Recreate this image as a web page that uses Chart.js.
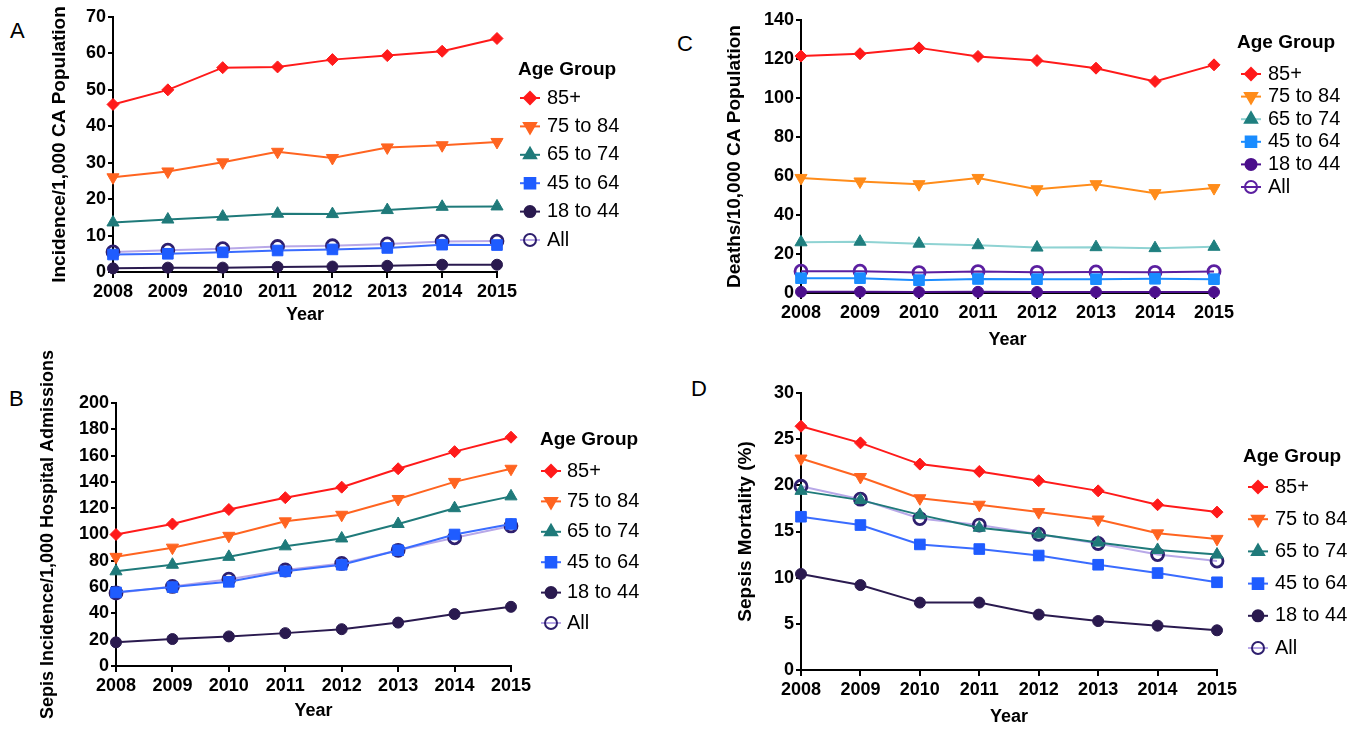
<!DOCTYPE html>
<html>
<head>
<meta charset="utf-8">
<script src="https://cdn.jsdelivr.net/npm/chart.js@4"></script>
<style>
  body { margin: 0; background: #fff; width: 1369px; height: 731px; position: relative; overflow: hidden; font-family: "Liberation Sans", Arial, sans-serif; }
  canvas { position: absolute; }
  .tag { position: absolute; font-size: 22px; color: #000; }
</style>
</head>
<body>
<div class="tag" style="left:10px;top:18px">A</div>
<div class="tag" style="left:9px;top:386px">B</div>
<div class="tag" style="left:677px;top:31px">C</div>
<div class="tag" style="left:691px;top:376px">D</div>
<canvas id="chartA"></canvas>
<canvas id="chartB"></canvas>
<canvas id="chartC"></canvas>
<canvas id="chartD"></canvas>
<script>
const years = ['2008', '2009', '2010', '2011', '2012', '2013', '2014', '2015'];
const groups = ['85+', '75 to 84', '65 to 74', '45 to 64', '18 to 44', 'All'];

// A - incidence per 1,000 CA population
const incPop85 = [46.0, 50.0, 56.1, 56.3, 58.3, 59.4, 60.6, 64.1];
const incPop75 = [26.0, 27.6, 30.1, 33.0, 31.3, 34.2, 34.8, 35.7];
const incPop65 = [13.6, 14.4, 15.2, 16.0, 15.9, 17.0, 17.9, 18.0];
const incPop45 = [4.8, 5.0, 5.4, 5.9, 6.2, 6.6, 7.5, 7.4];
const incPop18 = [1.0, 1.2, 1.2, 1.4, 1.5, 1.7, 2.0, 2.0];
const incPopAll = [5.5, 6.0, 6.4, 7.0, 7.2, 7.7, 8.4, 8.5];

// B - incidence per 1,000 hospital admissions
const incAdm85 = [100, 108, 119, 128, 136, 150, 163, 174];
const incAdm75 = [83, 90, 99, 110, 115, 127, 140, 150];
const incAdm65 = [72, 77, 83, 91, 97, 108, 120, 129];
const incAdm45 = [56, 60, 64, 72, 77, 88, 100, 108];
const incAdm18 = [18, 20.5, 22.5, 25, 28, 33, 39.5, 45];
const incAdmAll = [55.5, 60.5, 66, 73, 78, 88, 97.5, 106.5];

// C - deaths per 10,000 CA population
const deaths85 = [121.5, 122.7, 125.7, 121.3, 119.2, 115.3, 108.5, 117.0];
const deaths75 = [59.0, 57.2, 55.8, 59.0, 53.2, 55.8, 51.2, 53.8];
const deaths65 = [26.0, 26.3, 25.3, 24.5, 23.3, 23.5, 23.0, 23.7];
const deaths45 = [7.6, 7.6, 6.6, 7.2, 7.1, 7.1, 7.3, 7.1];
const deaths18 = [0.6, 0.6, 0.5, 0.6, 0.5, 0.5, 0.5, 0.5];
const deathsAll = [11.2, 11.2, 10.5, 11.0, 10.6, 10.8, 10.6, 11.0];

// D - sepsis mortality (%)
const mort85 = [26.4, 24.6, 22.3, 21.5, 20.5, 19.4, 17.9, 17.1];
const mort75 = [22.9, 20.9, 18.6, 17.9, 17.1, 16.3, 14.8, 14.2];
const mort65 = [19.4, 18.4, 16.8, 15.4, 14.7, 13.8, 13.0, 12.5];
const mort45 = [16.6, 15.7, 13.6, 13.1, 12.4, 11.4, 10.5, 9.5];
const mort18 = [10.4, 9.2, 7.3, 7.3, 6.0, 5.3, 4.8, 4.3];
const mortAll = [19.9, 18.5, 16.4, 15.7, 14.7, 13.7, 12.5, 11.8];

// marker looks, same order as groups
const pointStyles = ['rectRot', 'triangle', 'triangle', 'rect', 'circle', 'circle'];
const pointRots = [0, 180, 0, 0, 0, 0];
const pointSizes = [6, 7, 7, 7.5, 5.5, 6];
const markColors = ['#ff1a1a', '#ff6420', '#1f7a7a', '#1f5cff', '#2a1a4f', '#2e1f6e'];
const lineColors = ['#ff1a1a', '#ff6420', '#1f7a7a', '#3a6cff', '#2a1a4f', '#b8a8e8'];
const markColorsC = ['#ff1a1a', '#ff8c1a', '#1f7f7f', '#1a8cff', '#4b0f8c', '#5b1fa0'];
const lineColorsC = ['#ff1a1a', '#ff8c1a', '#8fd3d3', '#1a8cff', '#4b0f8c', '#5b1fa0'];

const FONT = '"Liberation Sans", Arial, sans-serif';

const sideLegend = {
  id: 'sideLegend',
  afterDraw(chart, args, o) {
    const ctx = chart.ctx;
    ctx.save();
    ctx.fillStyle = '#000';
    ctx.textBaseline = 'middle';
    ctx.font = 'bold 19px ' + FONT;
    ctx.fillText('Age Group', o.titleX, o.titleY);
    ctx.font = '20px ' + FONT;
    chart.data.datasets.forEach((ds, i) => {
      const y = o.firstY + i * o.gap;
      ctx.strokeStyle = ds.borderColor;
      ctx.lineWidth = 2;
      ctx.beginPath();
      ctx.moveTo(o.markX - 10, y);
      ctx.lineTo(o.markX + 10, y);
      ctx.stroke();
      ctx.fillStyle = ds.pointBackgroundColor;
      ctx.strokeStyle = ds.pointBorderColor;
      Chart.helpers.drawPoint(ctx, {
        pointStyle: ds.pointStyle, rotation: ds.pointRotation,
        radius: ds.pointRadius, borderWidth: ds.pointBorderWidth
      }, o.markX, y);
      ctx.fillStyle = '#000';
      ctx.fillText(ds.label, o.textX, y);
    });
    ctx.restore();
  }
};

function makePanel(id, box, area, yTitle, yTitleSize, yTitleX, xTitleY, yMax, yStep, series, marks, lines, leg) {
  const [x0, y0, w, h] = box;
  const [L, T, R, B] = area;
  const yLH = yTitleSize * 1.2, xLH = 18 * 1.2;
  const padLeft = yTitleX - x0 - yLH / 2;
  const yWidth = (L - x0) - padLeft;
  const padBottom = h - (xTitleY - y0) - xLH / 2;
  const xHeight = h - padBottom - (B - y0);

  const cv = document.getElementById(id);
  cv.width = w; cv.height = h;
  cv.style.left = x0 + 'px'; cv.style.top = y0 + 'px';
  cv.style.width = w + 'px'; cv.style.height = h + 'px';

  const datasets = series.map((data, i) => ({
    label: groups[i],
    data,
    borderColor: lines[i],
    borderWidth: 2,
    pointStyle: pointStyles[i],
    pointRotation: pointRots[i],
    pointRadius: pointSizes[i],
    pointBackgroundColor: i === 5 ? 'rgba(0,0,0,0)' : marks[i],
    pointBorderColor: marks[i],
    pointBorderWidth: i === 5 ? 2.8 : 1,
    tension: 0,
    clip: false
  }));

  new Chart(cv, {
    type: 'line',
    data: { labels: years, datasets },
    plugins: [sideLegend],
    options: {
      responsive: false,
      animation: false,
      layout: { padding: { left: padLeft, top: T - y0, right: w - (R - x0), bottom: padBottom } },
      plugins: {
        legend: { display: false },
        tooltip: { enabled: false },
        sideLegend: {
          titleX: leg.titleX - x0, titleY: leg.titleY - y0,
          markX: leg.markX - x0, textX: leg.textX - x0,
          firstY: leg.firstY - y0, gap: leg.gap
        }
      },
      scales: {
        x: {
          type: 'category',
          offset: false,
          afterFit(s) { s.height = xHeight; },
          grid: { drawOnChartArea: false, drawTicks: true, tickLength: 6, color: '#000', lineWidth: 2 },
          border: { color: '#000', width: 2 },
          ticks: { color: '#000', padding: 3, maxRotation: 0, font: { family: FONT, size: 18, weight: 'bold' } },
          title: { display: true, text: 'Year', color: '#000', padding: 0, font: { family: FONT, size: 18, weight: 'bold' } }
        },
        y: {
          min: 0, max: yMax,
          afterFit(s) { s.width = yWidth; },
          grid: { drawOnChartArea: false, drawTicks: true, tickLength: 5, color: '#000', lineWidth: 2 },
          border: { color: '#000', width: 2 },
          ticks: { stepSize: yStep, color: '#000', padding: 2, font: { family: FONT, size: 18, weight: 'bold' } },
          title: { display: true, text: yTitle, color: '#000', padding: 0, font: { family: FONT, size: yTitleSize, weight: 'bold' } }
        }
      }
    }
  });
}

makePanel('chartA', [0, 0, 684, 360], [113, 17, 497, 272],
  'Incidence/1,000 CA Population', 19, 60, 315, 70, 10,
  [incPop85, incPop75, incPop65, incPop45, incPop18, incPopAll], markColors, lineColors,
  { titleX: 518, titleY: 70, markX: 530, textX: 547, firstY: 98, gap: 28.4 });

makePanel('chartB', [0, 330, 684, 401], [116, 403, 511, 666],
  'Sepis Incidence/1,000 Hospital Admissions', 18, 48, 711, 200, 20,
  [incAdm85, incAdm75, incAdm65, incAdm45, incAdm18, incAdmAll], markColors, lineColors,
  { titleX: 540, titleY: 440, markX: 551, textX: 567, firstY: 471, gap: 30.4 });

makePanel('chartC', [684, 0, 685, 360], [801, 20, 1214, 293],
  'Deaths/10,000 CA Population', 19, 735, 340, 140, 20,
  [deaths85, deaths75, deaths65, deaths45, deaths18, deathsAll], markColorsC, lineColorsC,
  { titleX: 1237, titleY: 43, markX: 1251, textX: 1268, firstY: 74, gap: 22.6 });

makePanel('chartD', [684, 360, 685, 371], [801, 393, 1217, 670],
  'Sepsis Mortality (%)', 19, 746, 717, 30, 5,
  [mort85, mort75, mort65, mort45, mort18, mortAll], markColors, lineColors,
  { titleX: 1243, titleY: 457, markX: 1258, textX: 1275, firstY: 487, gap: 32.2 });
</script>
</body>
</html>
